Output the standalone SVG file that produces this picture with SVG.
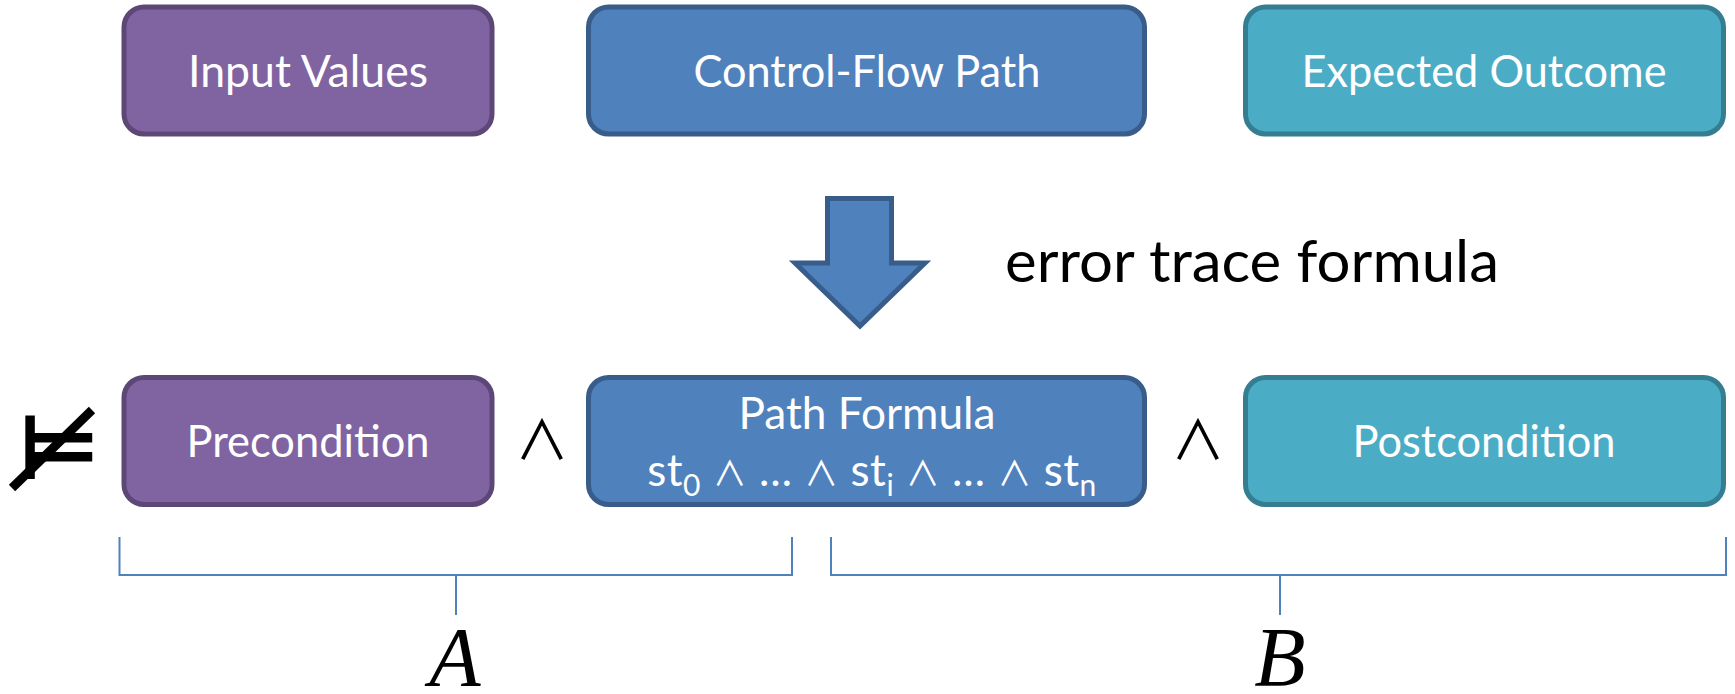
<svg xmlns="http://www.w3.org/2000/svg" width="1735" height="694" viewBox="0 0 1735 694">
<style>
  .box { stroke-width: 5; }
  .purple { fill: #8064a2; stroke: #5c4776; }
  .blue { fill: #4f81bd; stroke: #385d8a; }
  .teal { fill: #4bacc6; stroke: #357d91; }
  .lbl { font-family: Lato, "Open Sans", "Liberation Sans", sans-serif; font-size: 44px; fill: #ffffff; text-anchor: middle; }
  .sym { font-family: "DejaVu Sans", sans-serif; fill: #000000; text-anchor: middle; }
  .land { font-family: "Noto Sans CJK JP", "DejaVu Sans", sans-serif; font-weight: 400; fill: #000000; text-anchor: middle; font-size: 54px; }
  .and { font-family: "Noto Sans CJK JP", "DejaVu Sans", sans-serif; font-weight: 400; fill: #ffffff; font-size: 34px; }
  .brk { fill: none; stroke: #4f81bd; stroke-width: 2; }
  .math { font-family: "Liberation Serif", "DejaVu Serif", serif; font-style: italic; font-size: 84px; fill: #000000; text-anchor: middle; }
  .note { font-family: Lato, "Open Sans", "Liberation Sans", sans-serif; font-size: 58px; fill: #000000; }
</style>

<g id="node-input-values">
  <rect class="box purple" x="124" y="7" width="368" height="127" rx="20"/>
  <text class="lbl" x="308" y="87" textLength="240" lengthAdjust="spacingAndGlyphs">Input Values</text>
</g>
<g id="node-control-flow-path">
  <rect class="box blue" x="588.5" y="7" width="556" height="127" rx="20"/>
  <text class="lbl" x="867" y="87" textLength="347" lengthAdjust="spacingAndGlyphs">Control-Flow Path</text>
</g>
<g id="node-expected-outcome">
  <rect class="box teal" x="1245.5" y="7" width="478" height="127" rx="20"/>
  <text class="lbl" x="1484" y="87" textLength="365" lengthAdjust="spacingAndGlyphs">Expected Outcome</text>
</g>

<g id="connectors">
  <polygon class="box blue" points="827.5,198.5 891.5,198.5 891.5,263 925,263 860,326 795,263 827.5,263"/>
</g>
<g id="label-error-trace">
  <text class="note" x="1005" y="282" textLength="494" lengthAdjust="spacingAndGlyphs">error trace formula</text>
</g>

<g id="not-entails">
  <text class="sym" x="59" y="479" font-size="90" font-weight="bold">⊨</text>
  <line x1="12" y1="488" x2="92" y2="410" stroke="#000000" stroke-width="9"/>
</g>

<g id="node-precondition">
  <rect class="box purple" x="124" y="377.5" width="368" height="127" rx="20"/>
  <text class="lbl" x="308" y="457" textLength="243" lengthAdjust="spacingAndGlyphs">Precondition</text>
</g>
<g id="and-1">
  <text class="land" x="542" y="460">∧</text>
</g>
<g id="node-path-formula">
  <rect class="box blue" x="588.5" y="377.5" width="556" height="127" rx="20"/>
  <text class="lbl" x="867" y="429" textLength="257" lengthAdjust="spacingAndGlyphs">Path Formula</text>
  <text class="lbl" x="872" y="486" letter-spacing="0.5">st<tspan font-size="30" dy="10">0</tspan><tspan dy="-10"> </tspan><tspan class="and">∧</tspan> … <tspan class="and">∧</tspan> st<tspan font-size="30" dy="10">i</tspan><tspan dy="-10"> </tspan><tspan class="and">∧</tspan> … <tspan class="and">∧</tspan> st<tspan font-size="30" dy="10">n</tspan></text>
</g>
<g id="and-2">
  <text class="land" x="1198" y="460">∧</text>
</g>
<g id="node-postcondition">
  <rect class="box teal" x="1245.5" y="377.5" width="478" height="127" rx="20"/>
  <text class="lbl" x="1484" y="457" textLength="263" lengthAdjust="spacingAndGlyphs">Postcondition</text>
</g>

<g id="brackets">
  <polyline class="brk" points="119.5,537 119.5,575 792,575 792,537"/>
  <line class="brk" x1="456" y1="575" x2="456" y2="615"/>
  <polyline class="brk" points="831,537 831,575 1726,575 1726,537"/>
  <line class="brk" x1="1280" y1="575" x2="1280" y2="615"/>
</g>
<g id="label-A">
  <text class="math" x="455" y="686">A</text>
</g>
<g id="label-B">
  <text class="math" x="1280" y="686">B</text>
</g>
</svg>
